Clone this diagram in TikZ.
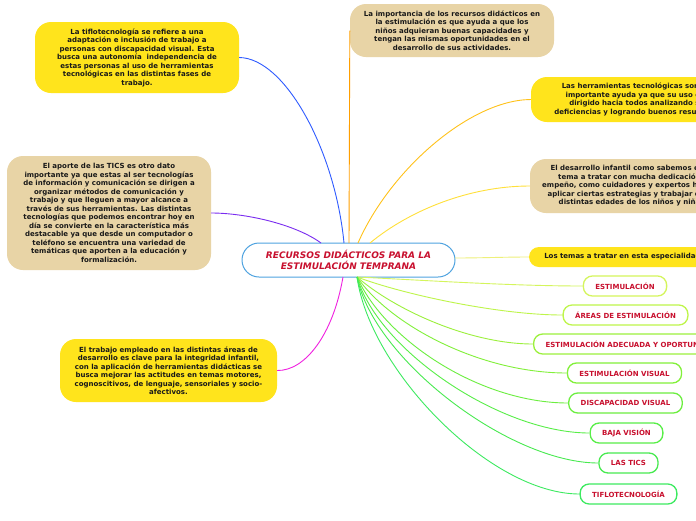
\documentclass[tikz,border=0pt]{standalone}
\usepackage{fontspec}
\setmainfont{DejaVu Sans}
\definecolor{yel}{HTML}{FFE41C}
\definecolor{tan}{HTML}{E8D4A6}
\definecolor{crim}{HTML}{C8102E}
\definecolor{cblue}{HTML}{4FA3E0}
\definecolor{lblue}{HTML}{2F5BFF}
\definecolor{lorange}{HTML}{FF9F00}
\definecolor{lyorange}{HTML}{FFC21A}
\definecolor{lyellow}{HTML}{FFE03A}
\definecolor{lpale}{HTML}{EEF07A}
\definecolor{lpurple}{HTML}{7A2CF0}
\definecolor{lmag}{HTML}{F020E0}
\definecolor{ga}{HTML}{D4F55C}
\definecolor{gb}{HTML}{BEF54A}
\definecolor{gc}{HTML}{9CF03C}
\definecolor{gd}{HTML}{82F03A}
\definecolor{ge}{HTML}{6CEE40}
\definecolor{gf}{HTML}{58EE48}
\definecolor{gg}{HTML}{48EA50}
\definecolor{gh}{HTML}{3CEA60}
\tikzset{
  bigbox/.style={rounded corners=16pt, draw=none, align=center, inner sep=0pt,
    font=\fontsize{7}{8.5}\selectfont\bfseries, text=black!90},
  smallbox/.style={rounded corners=9pt, fill=white, line width=1.3pt, align=center,
    minimum height=20pt, inner xsep=12pt, inner ysep=0pt,
    font=\fontsize{7}{8.5}\selectfont\bfseries, text=crim},
  conn/.style={line width=0.9pt},
}
\begin{document}
\begin{tikzpicture}[x=1pt,y=-1pt]
\useasboundingbox (0,0) rectangle (696,520);
\clip (0,0) rectangle (696,520);
\fill[white] (0,0) rectangle (696,520);
% nodes
\node[bigbox, fill=yel, minimum width=204pt, minimum height=71pt] (tiflo) at (137,57.5)
 {La tiflotecnología se refiere a una\\adaptación e inclusión de trabajo a\\personas con discapacidad visual. Esta\\busca una autonomía\ \ independencia de\\estas personas al uso de herramientas\\tecnológicas en las distintas fases de\\trabajo.};
\node[bigbox, fill=tan, minimum width=204pt, minimum height=53pt] (imp) at (452,30.5)
 {La importancia de los recursos didácticos en\\la estimulación es que ayuda a que los\\niños adquieran buenas capacidades y\\tengan las mismas oportunidades en el\\desarrollo de sus actividades.};
\node[bigbox, fill=yel, minimum width=216pt, minimum height=45pt] (herr) at (639,99.5)
 {Las herramientas tecnológicas son una\\importante ayuda ya que su uso está\\dirigido hacia todos analizando sus\\deficiencias y logrando buenos resultados.};
\node[bigbox, fill=tan, minimum width=206pt, minimum height=54pt] (desa) at (633,186)
 {El desarrollo infantil como sabemos es un\\tema a tratar con mucha dedicación y\\empeño, como cuidadores y expertos hay que\\aplicar ciertas estrategias y trabajar en las\\distintas edades de los niños y niñas.};
\node[bigbox, fill=tan, minimum width=204pt, minimum height=114pt] (tics) at (109,213)
 {El aporte de las TICS es otro dato\\importante ya que estas al ser tecnologías\\de información y comunicación se dirigen a\\organizar métodos de comunicación y\\trabajo y que lleguen a mayor alcance a\\través de sus herramientas. Las distintas\\tecnologías que podemos encontrar hoy en\\día se convierte en la característica más\\destacable ya que desde un computador o\\teléfono se encuentra una variedad de\\temáticas que aporten a la educación y\\formalización.};
\node[bigbox, fill=yel, minimum width=217pt, minimum height=63pt] (trab) at (168.5,370.5)
 {El trabajo empleado en las distintas áreas de\\desarrollo es clave para la integridad infantil,\\con la aplicación de herramientas didácticas se\\busca mejorar las actitudes en temas motores,\\cognoscitivos, de lenguaje, sensoriales y socio-\\afectivos.};
\node[bigbox, fill=yel, rounded corners=10pt, minimum width=206pt, minimum height=20pt] (temas) at (632,257)
 {Los temas a tratar en esta especialidad son:};
\node[rounded corners=17pt, draw=cblue, line width=1pt, fill=white, align=center,
  minimum width=213pt, minimum height=34pt, inner sep=0pt, text=crim,
  font=\fontsize{9}{11}\selectfont\bfseries\itshape] (c) at (348.5,260)
 {RECURSOS DIDÁCTICOS PARA LA\\ESTIMULACIÓN TEMPRANA};
\node[smallbox, draw=ga] (s1) at (625,286) {ESTIMULACIÓN};
\node[smallbox, draw=gb] (s2) at (625.5,315) {ÁREAS DE ESTIMULACIÓN};
\node[smallbox, draw=gc, anchor=west] (s3) at (533,344) {ESTIMULACIÓN ADECUADA Y OPORTUNA};
\node[smallbox, draw=gd] (s4) at (624.5,373) {ESTIMULACIÓN VISUAL};
\node[smallbox, draw=ge] (s5) at (625.5,403) {DISCAPACIDAD VISUAL};
\node[smallbox, draw=gf] (s6) at (626.5,433) {BAJA VISIÓN};
\node[smallbox, draw=gg] (s7) at (628.5,463) {LAS TICS};
\node[smallbox, draw=gh] (s8) at (628.5,494) {TIFLOTECNOLOGÍA};
% start coordinates
\coordinate (cb) at (344,243);
\coordinate (co) at (349,243);
\coordinate (cy) at (358,243);
\coordinate (cy2) at (370,243);
\coordinate (cp) at (321,243);
\coordinate (cm) at (343,277);
\coordinate (cg) at (357,277);
\coordinate (ct) at (455,258);
% connectors
\draw[conn, lblue] (cb) .. controls (335,150) and (285,58) .. (tiflo.east);
\draw[conn, lorange] (co) -- (imp.west);
\draw[conn, lyorange] (cy) .. controls (390,170) and (470,100) .. (herr.west);
\draw[conn, lyellow] (cy2) .. controls (410,210) and (470,186) .. (desa.west);
\draw[conn, lpale] (ct) .. controls (480,258) and (505,257) .. (temas.west);
\draw[conn, lpurple] (cp) .. controls (295,224) and (245,213) .. (tics.east);
\draw[conn, lmag] (cm) .. controls (333,335) and (305,371) .. (trab.east);
\draw[conn, ga] (cg) .. controls (420,280) and (510,286) .. (s1.west);
\draw[conn, gb] (cg) .. controls (405,295) and (500,315) .. (s2.west);
\draw[conn, gc] (cg) .. controls (395,310) and (470,344) .. (s3.west);
\draw[conn, gd] (cg) .. controls (390,325) and (480,373) .. (s4.west);
\draw[conn, ge] (cg) .. controls (385,340) and (480,403) .. (s5.west);
\draw[conn, gf] (cg) .. controls (378,350) and (500,433) .. (s6.west);
\draw[conn, gg] (cg) .. controls (374,360) and (510,463) .. (s7.west);
\draw[conn, gh] (cg) .. controls (370,370) and (490,494) .. (s8.west);
\end{tikzpicture}
\end{document}
